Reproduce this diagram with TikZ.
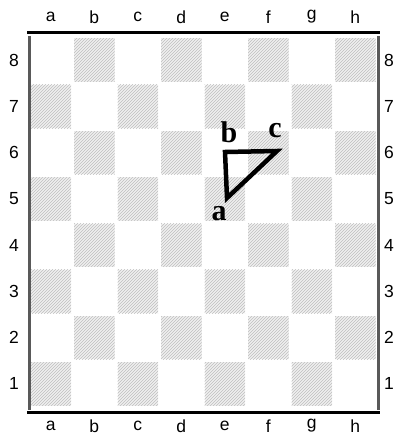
\documentclass[tikz,border=0pt]{standalone}
\usepackage{fontspec}
\setmainfont{Liberation Serif}
\setsansfont{Liberation Sans}
\usetikzlibrary{patterns}
\usetikzlibrary{calc}

\tikzset{
  darksq/.style={fill=gray!12, postaction={pattern=north east lines, pattern color=gray!50}},
  coord/.style={font=\sffamily\fontsize{17.5}{20}\selectfont, inner sep=0pt},
  ptlabel/.style={font=\bfseries\fontsize{30}{32}\selectfont, inner sep=0pt}
}

\begin{document}
\begin{tikzpicture}[x=1pt,y=-1pt]
      \useasboundingbox (0,0) rectangle (396,436);

      % squares
      \foreach \i in {0,...,7} {
        \foreach \r in {1,...,8} {
          \pgfmathtruncatemacro{\odd}{mod(\i+\r,2)}
          \ifnum\odd=1
            \fill[darksq] ({29+43.5*\i+1.5},{37+46.25*(8-\r)+1.5}) rectangle ++(40.5,43.25);
          \fi
        }
      }

      % frame
      \draw[line width=3pt] (27,33) -- (380,33);
      \draw[line width=3pt] (27,412) -- (380,412);
      \draw[line width=3pt,black!65] (29,36) -- (29,410);
      \draw[line width=3pt,black!65] (378,36) -- (378,410);

      % file and rank labels
      \foreach \f [count=\i from 0] in {a,b,c,d,e,f,g,h} {
        \node[coord] (top-\f) at ({50.75+43.5*\i},17) {\f};
        \node[coord] (bot-\f) at ({50.75+43.5*\i},426) {\f};
      }
      \foreach \r in {1,...,8} {
        \node[coord] (left-\r) at (14,{37+46.25*(8-\r)+23.1}) {\r};
        \node[coord] (right-\r) at (389,{37+46.25*(8-\r)+23.1}) {\r};
      }

      % triangle
      \coordinate (a) at (227,198);
      \coordinate (b) at (225,152);
      \coordinate (c) at (277,151);
      \draw[line width=4.5pt,line join=miter] (a) -- (b) -- (c) -- cycle;
      \node[ptlabel] (la) at (219,214) {a};
      \node[ptlabel] (lb) at (229,132) {b};
      \node[ptlabel] (lc) at (275,131) {c};
\end{tikzpicture}
\end{document}
